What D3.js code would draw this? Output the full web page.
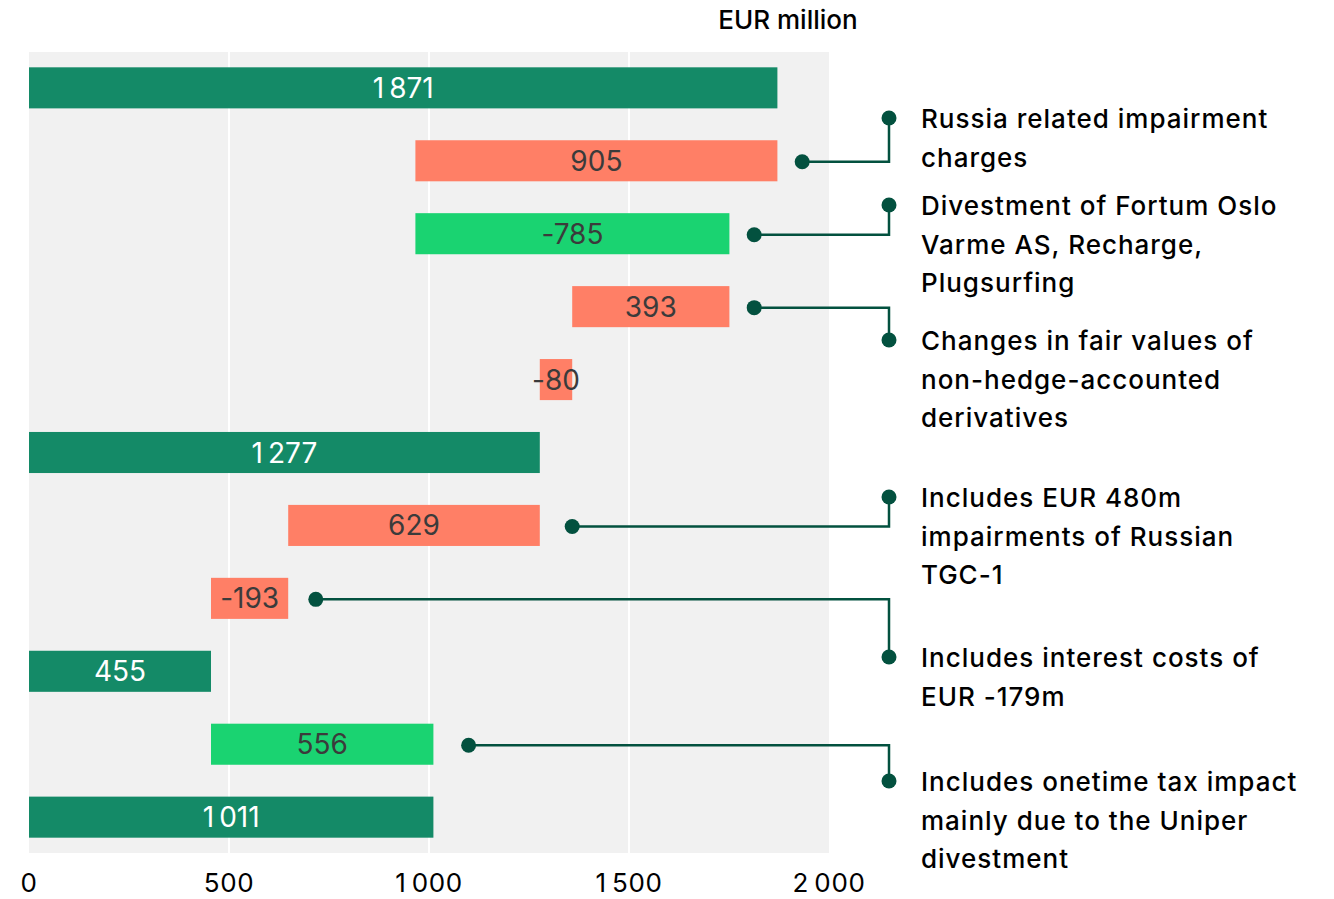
<!DOCTYPE html>
<html>
<head>
<meta charset="utf-8">
<script src="https://cdn.jsdelivr.net/npm/d3@7"></script>
<style>
  body { margin: 0; background: #fff; }
  text { font-family: Inter, "Noto Sans", sans-serif; font-variant-ligatures: none; }
</style>
</head>
<body>
<div id="chart"></div>
<script>
// data: waterfall steps (EUR million)
var barLabels = [1871, 905, -785, 393, -80, 1277, 629, -193, 455, 556, 1011];
var barStart  = [0, 966, 966, 1358, 1277, 0, 648, 455, 0, 455, 0];
var barEnd    = [1871, 1871, 1751, 1751, 1358, 1277, 1277, 648, 455, 1011, 1011];
var barType   = ["total", "neg", "pos", "neg", "neg", "total", "neg", "neg", "total", "pos", "total"];
var xTicks    = [0, 500, 1000, 1500, 2000];

// callouts: which bar, where the dot sits (data units), and the note text
var noteRow  = [1, 2, 3, 6, 7, 9];
var noteDotX = [1933, 1813, 1813, 1358, 717, 1099];
var noteText = [
  ["Russia related impairment", "charges"],
  ["Divestment of Fortum Oslo", "Varme AS, Recharge,", "Plugsurfing"],
  ["Changes in fair values of", "non-hedge-accounted", "derivatives"],
  ["Includes EUR 480m", "impairments of Russian", "TGC-1"],
  ["Includes interest costs of", "EUR -179m"],
  ["Includes onetime tax impact", "mainly due to the Uniper", "divestment"]
];
// vertical position of each note (pixels)
var noteY = [118, 205, 340, 497, 657, 781];

var W = 1334, H = 899;
var colors = { total: "#148a67", neg: "#ff7f66", pos: "#1ad371" };
var labelColor = { total: "#ffffff", neg: "#3b3b3b", pos: "#3b3b3b" };

var svg = d3.select("#chart").append("svg")
    .attr("width", W)
    .attr("height", H);

var x = d3.scaleLinear()
    .domain([0, 2000])
    .range([29, 829]);

var y = d3.scaleBand()
    .domain(d3.range(barLabels.length))
    .range([52, 853])
    .paddingInner(0.437)
    .paddingOuter(0.21);

var loc = d3.formatLocale({ decimal: ".", thousands: "\u2009", grouping: [3], currency: ["", ""], minus: "-" });
var fmt = loc.format(",d");

// grey panel
svg.append("rect")
    .attr("x", x(0))
    .attr("y", 52)
    .attr("width", x(2000) - x(0))
    .attr("height", 853 - 52)
    .attr("fill", "#f1f1f1");

// gridlines
svg.append("g")
    .selectAll("line")
    .data(xTicks.slice(1, -1))
    .enter()
    .append("line")
    .attr("x1", function(d) { return x(d); })
    .attr("x2", function(d) { return x(d); })
    .attr("y1", 52)
    .attr("y2", 853)
    .attr("stroke", "#ffffff")
    .attr("stroke-width", 2);

// bars
var idx = d3.range(barLabels.length);
svg.append("g")
    .selectAll("rect")
    .data(idx)
    .enter()
    .append("rect")
    .attr("x", function(i) { return x(barStart[i]); })
    .attr("y", function(i) { return y(i); })
    .attr("width", function(i) { return x(barEnd[i]) - x(barStart[i]); })
    .attr("height", y.bandwidth())
    .attr("fill", function(i) { return colors[barType[i]]; });

// bar labels
svg.append("g")
    .selectAll("text")
    .data(idx)
    .enter()
    .append("text")
    .attr("x", function(i) { return x((barStart[i] + barEnd[i]) / 2); })
    .attr("y", function(i) { return y(i) + y.bandwidth() / 2 + 10; })
    .attr("text-anchor", "middle")
    .style("font-size", "28px")
    .attr("fill", function(i) { return labelColor[barType[i]]; })
    .text(function(i) { return fmt(barLabels[i]); });

// x axis labels
svg.append("g")
    .selectAll("text")
    .data(xTicks)
    .enter()
    .append("text")
    .attr("x", function(d) { return x(d); })
    .attr("y", 892)
    .attr("text-anchor", "middle")
    .style("font-size", "26px")
    .style("letter-spacing", "0.6px")
    .attr("fill", "#000")
    .text(function(d) { return fmt(d); });

// unit
svg.append("text")
    .attr("x", 788)
    .attr("y", 29)
    .attr("text-anchor", "middle")
    .style("font-size", "26px")
    .style("font-weight", 500)
    .attr("fill", "#000")
    .text("EUR million");

// callouts
var lineX = 889, noteCol = "#03513f";
var notes = svg.append("g");
noteRow.forEach(function(r, k) {
  var by = y(r) + y.bandwidth() / 2 + 1;
  var dx = x(noteDotX[k]);
  notes.append("path")
      .attr("d", "M" + dx + "," + by + "H" + lineX + "V" + noteY[k])
      .attr("fill", "none")
      .attr("stroke", noteCol)
      .attr("stroke-width", 2.5);
  notes.append("circle").attr("cx", dx).attr("cy", by).attr("r", 7.5).attr("fill", noteCol);
  notes.append("circle").attr("cx", lineX).attr("cy", noteY[k]).attr("r", 7.5).attr("fill", noteCol);
  var t = notes.append("text")
      .attr("x", 921)
      .attr("y", noteY[k] + 10)
      .style("font-size", "26px")
      .style("font-weight", 500)
      .style("letter-spacing", "1px")
      .attr("fill", "#000");
  noteText[k].forEach(function(line, j) {
    t.append("tspan").attr("x", 921).attr("dy", j === 0 ? 0 : 38.5).text(line);
  });
});
</script>
</body>
</html>
